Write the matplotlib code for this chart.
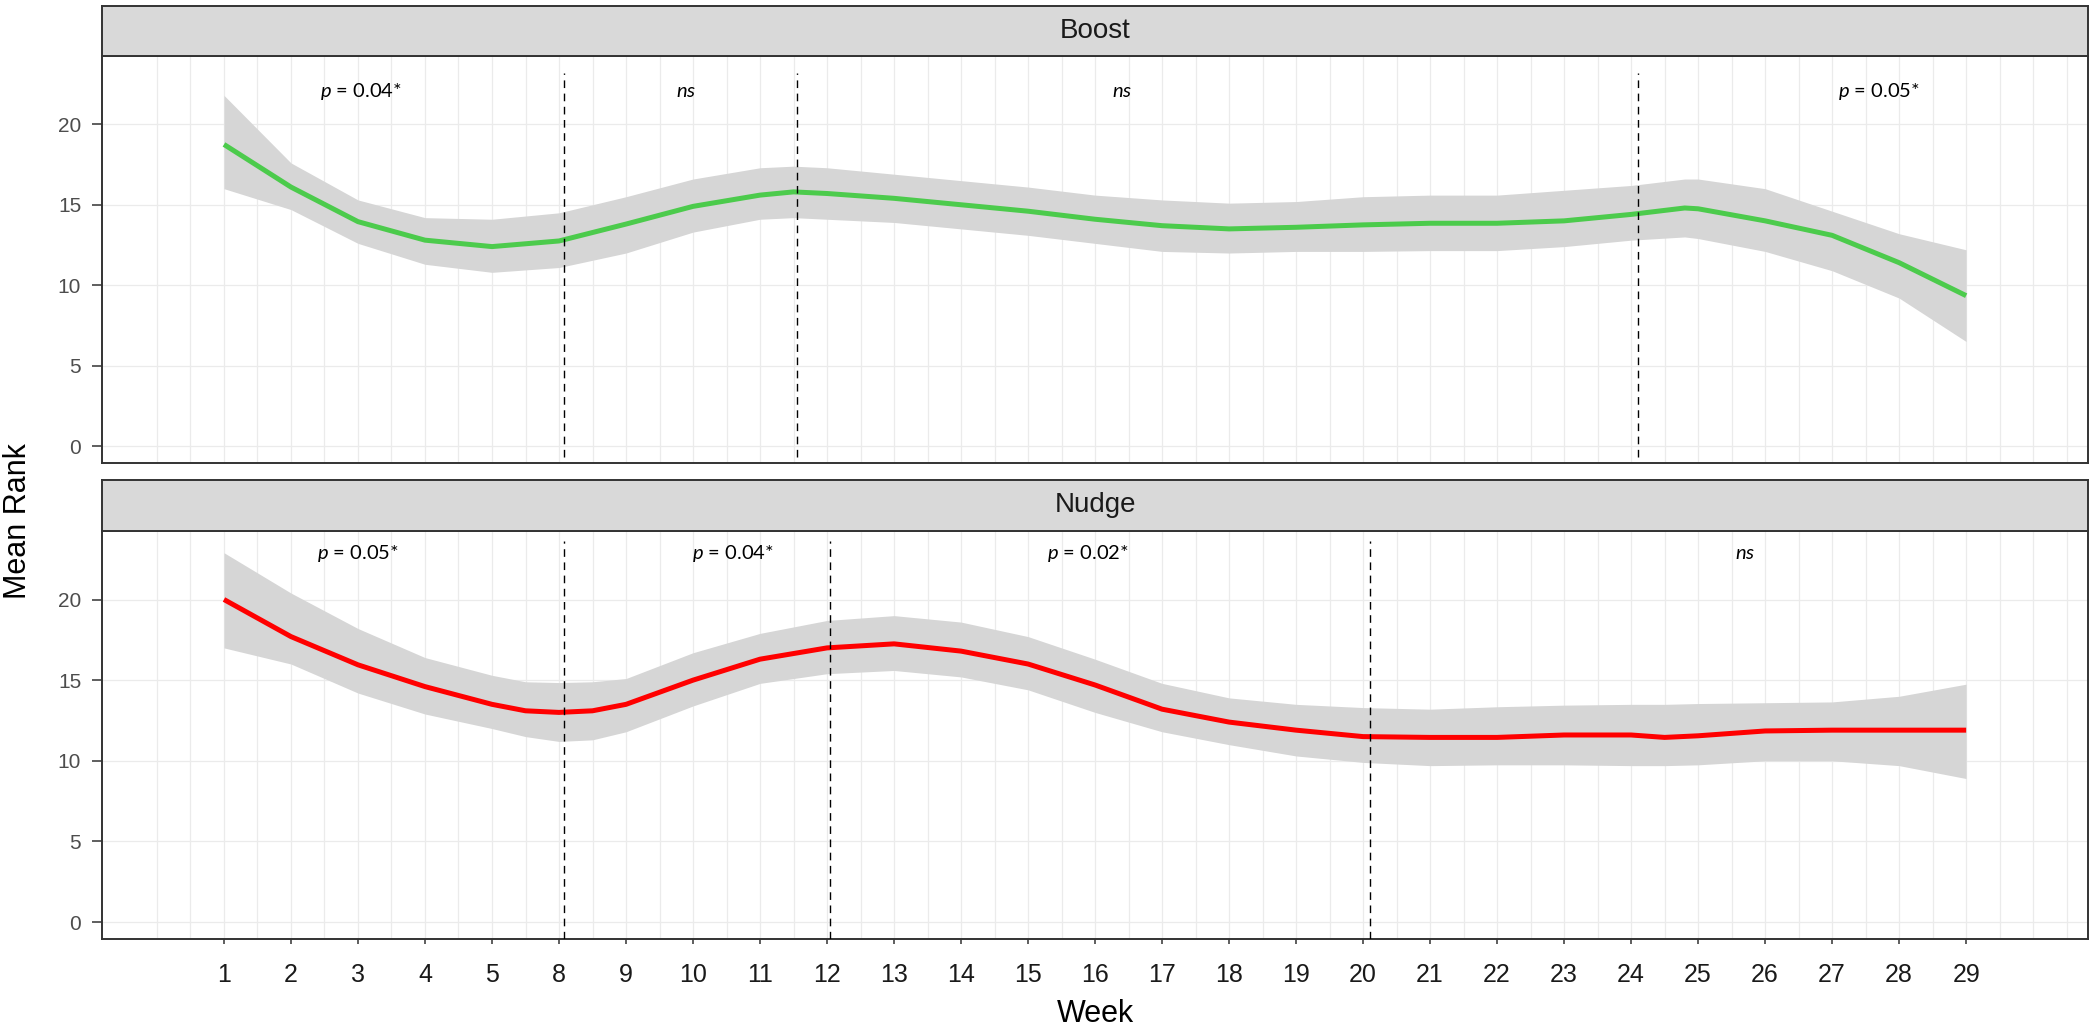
import matplotlib
matplotlib.use("Agg")
import matplotlib.pyplot as plt

plt.rcParams['mathtext.fontset'] = 'custom'
plt.rcParams['mathtext.it'] = 'Lato:italic'
plt.rcParams['mathtext.rm'] = 'Lato'

# x tick labels (weeks), drawn at equally spaced positions 1..27
week_labels = ["1", "2", "3", "4", "5", "8", "9", "10", "11", "12", "13", "14", "15", "16",
               "17", "18", "19", "20", "21", "22", "23", "24", "25", "26", "27", "28", "29"]
tick_pos = list(range(1, len(week_labels) + 1))

# Boost smooth (position, mean, lower, upper)
boost_x = [1, 2, 3, 4, 5, 6, 7, 8, 9, 9.5, 10, 11, 12, 13, 14, 15, 16, 17, 18, 19, 20, 21,
           22, 22.8, 23, 24, 25, 26, 27]
boost_mean = [18.75, 16.1, 13.95, 12.8, 12.4, 12.75, 13.8, 14.9, 15.6, 15.8, 15.7, 15.4, 15.0,
              14.6, 14.1, 13.7, 13.5, 13.6, 13.75, 13.85, 13.85, 14.0, 14.4, 14.8, 14.75, 14.0,
              13.1, 11.4, 9.35]
boost_lo = [16.0, 14.7, 12.6, 11.3, 10.8, 11.1, 12.0, 13.3, 14.1, 14.2, 14.1, 13.9, 13.5, 13.1,
            12.6, 12.1, 12.0, 12.1, 12.1, 12.15, 12.15, 12.4, 12.8, 13.0, 12.9, 12.1, 10.9, 9.2, 6.5]
boost_hi = [21.8, 17.6, 15.3, 14.2, 14.1, 14.5, 15.5, 16.6, 17.3, 17.4, 17.3, 16.9, 16.5, 16.1,
            15.6, 15.3, 15.1, 15.2, 15.5, 15.6, 15.6, 15.9, 16.2, 16.6, 16.6, 16.0, 14.6, 13.2, 12.2]

# Nudge smooth
nudge_x = [1, 2, 3, 4, 5, 5.5, 6, 6.5, 7, 8, 9, 10, 11, 12, 13, 14, 15, 16, 17, 18, 19, 20, 21,
           22, 22.5, 23, 24, 25, 26, 27]
nudge_mean = [20.0, 17.7, 15.95, 14.6, 13.5, 13.1, 13.0, 13.1, 13.5, 15.0, 16.3, 17.0, 17.25,
              16.8, 16.0, 14.7, 13.2, 12.4, 11.9, 11.5, 11.45, 11.45, 11.6, 11.6, 11.45, 11.55,
              11.85, 11.9, 11.9, 11.9]
nudge_lo = [17.0, 16.0, 14.2, 12.9, 12.0, 11.5, 11.2, 11.3, 11.8, 13.4, 14.8, 15.4, 15.6, 15.2,
            14.4, 13.0, 11.8, 11.0, 10.3, 9.9, 9.7, 9.75, 9.75, 9.7, 9.7, 9.75, 10.0, 10.0, 9.7, 8.9]
nudge_hi = [22.9, 20.4, 18.2, 16.4, 15.3, 14.9, 14.85, 14.9, 15.1, 16.7, 17.9, 18.7, 19.0, 18.6,
            17.7, 16.3, 14.8, 13.9, 13.5, 13.3, 13.2, 13.35, 13.45, 13.5, 13.5, 13.55, 13.6, 13.65,
            14.0, 14.75]

# breakpoints and segment labels
boost_breaks = [6.07, 9.55, 22.1]
nudge_breaks = [6.07, 10.05, 18.1]
boost_notes = [r"$\mathit{p}$ = 0.04*", r"$\mathit{ns}$", r"$\mathit{ns}$", r"$\mathit{p}$ = 0.05*"]
boost_note_x = [3.04, 7.9, 14.4, 25.7]
nudge_notes = [r"$\mathit{p}$ = 0.05*", r"$\mathit{p}$ = 0.04*", r"$\mathit{p}$ = 0.02*", r"$\mathit{ns}$"]
nudge_note_x = [3.0, 8.6, 13.9, 23.7]

fig = plt.figure(figsize=(20.95, 10.36), dpi=100)

L, W = 0.0487, 0.948
panels = [
    ("Boost", [L, 0.5531, W, 0.3929], [L, 0.9459, W, 0.0483], boost_x, boost_mean, boost_lo,
     boost_hi, "#4CCB4C", boost_breaks, (-0.7, 23.2), boost_notes, boost_note_x, 22.05,
     ['Liberation Sans', 'DejaVu Sans'], False),
    ("Nudge", [L, 0.0936, W, 0.3939], [L, 0.4875, W, 0.0492], nudge_x, nudge_mean, nudge_lo,
     nudge_hi, "#FF0000", nudge_breaks, (-1.05, 23.6), nudge_notes, nudge_note_x, 22.85,
     ['Liberation Sans Narrow', 'Liberation Sans', 'DejaVu Sans'], True),
]

for (name, rect, srect, xs, ys, lo, hi, col, breaks, vspan, notes, note_x, note_y,
     strip_font, show_x) in panels:
    ax = fig.add_axes(rect)
    ax.set_xlim(-0.82, 28.82)
    ax.set_ylim(-1.05, 24.25)
    # grid
    for g in [i * 0.5 for i in range(0, 58)]:
        ax.axvline(g, color="#EBEBEB", lw=0.9, zorder=0)
    for g in [0, 5, 10, 15, 20]:
        ax.axhline(g, color="#EBEBEB", lw=0.9, zorder=0)
    ax.fill_between(xs, lo, hi, color="#D6D6D6", lw=0, zorder=1)
    ax.plot(xs, ys, color=col, lw=3.6, zorder=2, solid_capstyle="butt")
    ax.vlines(breaks, vspan[0], vspan[1], colors="black", linestyles=(0, (5.5, 4)), lw=1.0,
              zorder=3)
    for t, x in zip(notes, note_x):
        ax.text(x, note_y, t, ha="center", va="center", fontsize=14.5, family="Lato", zorder=4)
    ax.set_yticks([0, 5, 10, 15, 20])
    ax.tick_params(axis="y", length=7, width=1.1, color="#333333", labelsize=15,
                   labelcolor="#4D4D4D", pad=8)
    for lab in ax.get_yticklabels():
        lab.set_family("Liberation Sans")
    if show_x:
        ax.set_xticks(tick_pos)
        ax.set_xticklabels(week_labels, fontsize=18, color="#1A1A1A",
                           family=['Liberation Sans Narrow', 'Liberation Sans'])
        ax.tick_params(axis="x", length=3.5, width=1.1, color="#333333", pad=14)
    else:
        ax.set_xticks([])
    for s in ax.spines.values():
        s.set_color("#333333")
        s.set_linewidth(1.4)

    sax = fig.add_axes(srect)
    sax.set_facecolor("#D9D9D9")
    sax.set_xticks([])
    sax.set_yticks([])
    for s in sax.spines.values():
        s.set_color("#333333")
        s.set_linewidth(1.4)
    sax.text(0.5, 0.5, name, ha="center", va="center", fontsize=20, color="#1A1A1A",
             family=strip_font, transform=sax.transAxes)

fig.text(0.0085, 0.497, "Mean Rank", rotation=90, ha="center", va="center", fontsize=22,
         family="Liberation Sans")
fig.text(0.5227, 0.021, "Week", ha="center", va="center", fontsize=22, family="Liberation Sans")

fig.savefig("out.png", dpi=100, facecolor="white")
